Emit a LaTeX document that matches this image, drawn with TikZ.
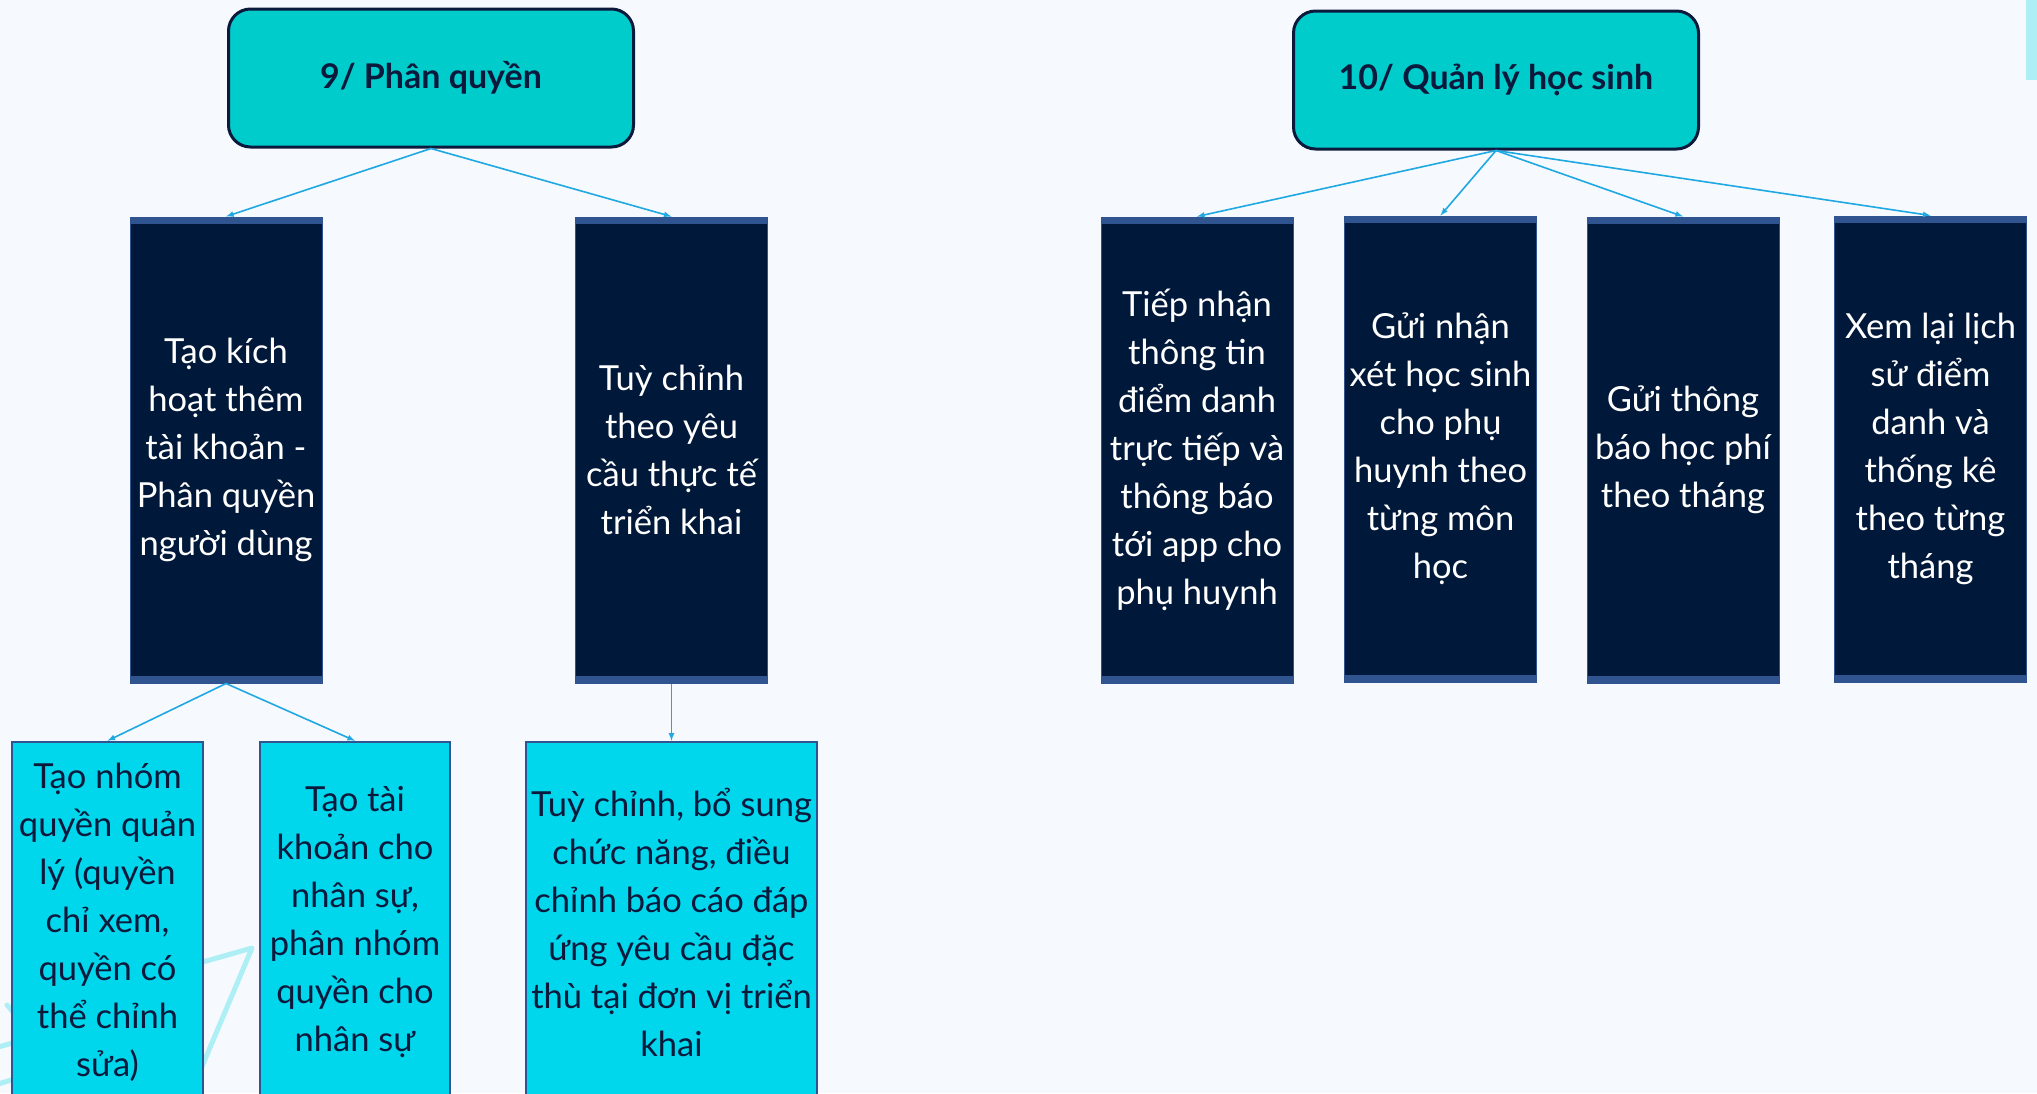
\documentclass[tikz,border=0pt]{standalone}
\usepackage{fontspec}
\setmainfont{Lato}
\definecolor{pagebg}{HTML}{F6FAFE}
\definecolor{navy}{HTML}{0B1A3C}
\definecolor{headcyan}{HTML}{00CCCC}
\definecolor{taskdark}{HTML}{001839}
\definecolor{band}{HTML}{2F5490}
\definecolor{subcyan}{HTML}{00D6EC}
\definecolor{linkblue}{HTML}{1FA8E1}
\definecolor{deco}{HTML}{ADEFF5}
\tikzset{
	head/.style = {draw=navy, line width=3pt, fill=headcyan, rounded corners=22pt, text=navy, font=\fontsize{34}{40}\selectfont\bfseries, minimum width=405pt, minimum height=138pt},
	task/.style = {draw=band, line width=1pt, fill=taskdark, text=white, align=center, font=\fontsize{34.5}{48}\selectfont, minimum width=192pt, minimum height=466pt, inner sep=0pt,
		path picture={
			\fill[band] (path picture bounding box.north west) rectangle ([yshift=-7pt]path picture bounding box.north east);
			\fill[band] (path picture bounding box.south west) rectangle ([yshift=7pt]path picture bounding box.south east);
		}},
	sub/.style = {draw=band, line width=2.5pt, fill=subcyan, text=navy, align=center, font=\fontsize{34.5}{48}\selectfont, minimum height=360pt, inner sep=0pt},
	link/.style = {-latex, draw=linkblue, line width=1.6pt},
}
\begin{document}
\begin{tikzpicture}[x=1pt, y=-1pt]
	\useasboundingbox (0,0) rectangle (2037,1093);
	\clip (0,0) rectangle (2037,1093);
	\fill[pagebg] (0,0) rectangle (2037,1093);
	\fill[deco] (2026,0) rectangle (2037,80);
	% star outline behind the first box
	\draw[deco, line width=5pt, line cap=round, line join=round] (150,977) -- (252,948) -- (190,1095);
	\draw[deco, line width=5pt, line cap=round] (7,1005) -- (14,1013);
	\draw[deco, line width=5pt, line cap=round] (-5,1048) -- (40,1035);
	\draw[deco, line width=5pt, line cap=round] (-5,1085) -- (40,1071);

	% 9/ Phan quyen
	\node (head1) at (431,78) [head] {9/ Phân quyền};
	\node (perm1) at (226,450) [task] {Tạo kích\\hoạt thêm\\tài khoản -\\Phân quyền\\người dùng};
	\node (perm2) at (671.5,450) [task] {Tuỳ chỉnh\\theo yêu\\cầu thực tế\\triển khai};
	\node (grp) at (107.5,922) [sub, minimum width=191pt] {Tạo nhóm\\quyền quản\\lý (quyền\\chỉ xem,\\quyền có\\thể chỉnh\\sửa)};
	\node (acc) at (355,922) [sub, minimum width=190pt] {Tạo tài\\khoản cho\\nhân sự,\\phân nhóm\\quyền cho\\nhân sự};
	\node (cust) at (671.5,922) [sub, minimum width=291pt] {Tuỳ chỉnh, bổ sung\\chức năng, điều\\chỉnh báo cáo đáp\\ứng yêu cầu đặc\\thù tại đơn vị triển\\khai};
	\draw[link] (head1.south) -- (perm1.north);
	\draw[link] (head1.south) -- (perm2.north);
	\draw[link] (perm1.south) -- (grp.north);
	\draw[link] (perm1.south) -- (acc.north);
	\draw[link] (perm2.south) -- (cust.north);

	% 10/ Quan ly hoc sinh
	\node (head2) at (1496,80) [head] {10/ Quản lý học sinh};
	\node (att) at (1197,450) [task] {Tiếp nhận\\thông tin\\điểm danh\\trực tiếp và\\thông báo\\tới app cho\\phụ huynh};
	\node (cmt) at (1440.5,449) [task] {Gửi nhận\\xét học sinh\\cho phụ\\huynh theo\\từng môn\\học};
	\node (fee) at (1683,450) [task] {Gửi thông\\báo học phí\\theo tháng};
	\node (hist) at (1930.5,449) [task] {Xem lại lịch\\sử điểm\\danh và\\thống kê\\theo từng\\tháng};
	\draw[link] (head2.south) -- (att.north);
	\draw[link] (head2.south) -- (cmt.north);
	\draw[link] (head2.south) -- (fee.north);
	\draw[link] (head2.south) -- (hist.north);
\end{tikzpicture}
\end{document}
